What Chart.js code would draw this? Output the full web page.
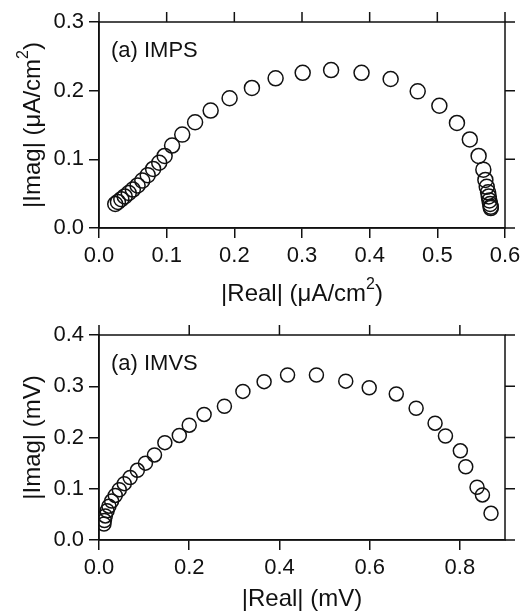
<!DOCTYPE html>
<html>
<head>
<meta charset="utf-8">
<script src="https://cdn.jsdelivr.net/npm/chart.js@4/dist/chart.umd.min.js"></script>
<style>
  html, body { margin: 0; padding: 0; background: #fff; }
  #wrap { position: relative; width: 529px; height: 613px; }
  .box { position: absolute; left: 0; width: 529px; }
</style>
</head>
<body>
<div id="wrap">
  <div class="box" style="top:0;height:306px"><canvas id="impsChart"></canvas></div>
  <div class="box" style="top:306px;height:307px"><canvas id="imvsChart"></canvas></div>
</div>
<script>
// IMPS: |Real| vs |Imag| (uA/cm2)
const impsReal = [0.024, 0.028, 0.033, 0.038, 0.044, 0.050, 0.057, 0.064, 0.072, 0.080,
                  0.089, 0.097, 0.108, 0.123, 0.142, 0.165, 0.193, 0.226, 0.261, 0.301,
                  0.343, 0.388, 0.431, 0.471, 0.503, 0.529, 0.548, 0.561, 0.568, 0.571,
                  0.573, 0.575, 0.576, 0.577, 0.578, 0.579, 0.579];
const impsImag = [0.035, 0.038, 0.042, 0.046, 0.051, 0.056, 0.062, 0.069, 0.077, 0.086,
                  0.095, 0.105, 0.120, 0.136, 0.154, 0.171, 0.189, 0.204, 0.218, 0.226,
                  0.230, 0.226, 0.217, 0.199, 0.178, 0.153, 0.129, 0.105, 0.085, 0.070,
                  0.060, 0.052, 0.046, 0.040, 0.035, 0.031, 0.029];

// IMVS: |Real| vs |Imag| (mV)
const imvsReal = [0.011, 0.012, 0.014, 0.018, 0.022, 0.028, 0.036, 0.045, 0.056, 0.069,
                  0.085, 0.103, 0.123, 0.146, 0.178, 0.200, 0.233, 0.278, 0.319, 0.366,
                  0.418, 0.482, 0.547, 0.599, 0.659, 0.703, 0.745, 0.768, 0.801, 0.813,
                  0.838, 0.850, 0.869];
const imvsImag = [0.031, 0.038, 0.047, 0.057, 0.066, 0.076, 0.087, 0.098, 0.110, 0.122,
                  0.136, 0.150, 0.166, 0.190, 0.204, 0.224, 0.245, 0.261, 0.290, 0.309,
                  0.322, 0.322, 0.310, 0.297, 0.285, 0.257, 0.228, 0.203, 0.174, 0.143,
                  0.103, 0.088, 0.052];

Chart.defaults.font.family = "'Liberation Sans', Arial, sans-serif";
Chart.defaults.color = '#111';

const INK = '#111';
const FAMILY = "'Liberation Sans', Arial, sans-serif";

// draws "main" + raised "sup" + "tail", the whole string centred at 0
function drawSupText(ctx, t, size) {
    const big = size + 'px ' + FAMILY;
    const small = Math.round(size * 0.68) + 'px ' + FAMILY;
    ctx.font = big;
    const w1 = ctx.measureText(t.text).width;
    const w3 = t.tail ? ctx.measureText(t.tail).width : 0;
    ctx.font = small;
    const w2 = t.sup ? ctx.measureText(t.sup).width : 0;
    let x = -(w1 + w2 + w3) / 2;
    ctx.font = big;
    ctx.fillText(t.text, x, 0);
    x += w1;
    if (t.sup) {
        ctx.font = small;
        ctx.fillText(t.sup, x, -size * 0.5);
        x += w2;
    }
    if (t.tail) {
        ctx.font = big;
        ctx.fillText(t.tail, x, 0);
    }
}

// frame + mirrored outward ticks on top/right + panel label + axis titles
const framePlugin = {
    id: 'frame',
    afterDraw(chart, args, opts) {
        const ctx = chart.ctx;
        const a = chart.chartArea;
        const xs = chart.scales.x;
        const ys = chart.scales.y;
        ctx.save();
        ctx.strokeStyle = INK;
        ctx.lineWidth = 1.5;
        ctx.strokeRect(a.left, a.top, a.right - a.left, a.bottom - a.top);
        ctx.beginPath();
        xs.ticks.forEach(t => {
            const px = xs.getPixelForValue(t.value);
            ctx.moveTo(px, a.top);
            ctx.lineTo(px, a.top - 10);
        });
        ys.ticks.forEach(t => {
            const py = ys.getPixelForValue(t.value);
            ctx.moveTo(a.right, py);
            ctx.lineTo(a.right + 10, py);
        });
        ctx.stroke();

        ctx.fillStyle = INK;
        ctx.textBaseline = 'alphabetic';
        ctx.textAlign = 'left';
        ctx.font = '22px ' + FAMILY;
        ctx.fillText(opts.label, a.left + 12, a.top + 35);

        // x title
        ctx.save();
        ctx.translate((a.left + a.right) / 2, a.bottom + opts.xTitleOff);
        drawSupText(ctx, opts.xTitle, 24);
        ctx.restore();

        // y title
        ctx.save();
        ctx.translate(40, (a.top + a.bottom) / 2);
        ctx.rotate(-Math.PI / 2);
        drawSupText(ctx, opts.yTitle, 24);
        ctx.restore();

        ctx.restore();
    }
};

function makeChart(id, xs, ys, opt) {
    const pts = xs.map((x, i) => ({ x: x, y: ys[i] }));
    return new Chart(document.getElementById(id), {
        type: 'scatter',
        data: {
            datasets: [{
                data: pts,
                pointStyle: 'circle',
                pointRadius: opt.radius,
                pointBorderWidth: 1.5,
                pointBorderColor: INK,
                pointBackgroundColor: 'rgba(0,0,0,0)',
                showLine: false
            }]
        },
        options: {
            responsive: true,
            maintainAspectRatio: false,
            animation: false,
            layout: { padding: { top: opt.top, right: 24, left: 0, bottom: 0 } },
            plugins: {
                legend: { display: false },
                tooltip: { enabled: false },
                frame: { label: opt.label, xTitle: opt.xTitle, yTitle: opt.yTitle, xTitleOff: opt.xTitleOff }
            },
            scales: {
                x: {
                    type: 'linear',
                    min: 0,
                    max: opt.xMax,
                    afterFit: s => { s.height = opt.xAxisH; },
                    border: { color: INK, width: 1.5 },
                    grid: { drawOnChartArea: false, tickLength: 10, tickColor: INK, lineWidth: 1.5 },
                    ticks: {
                        stepSize: opt.xStep,
                        includeBounds: false,
                        padding: 5,
                        font: { size: 22 },
                        color: INK,
                        maxRotation: 0,
                        autoSkip: false,
                        callback: v => v.toFixed(1)
                    }
                },
                y: {
                    type: 'linear',
                    min: 0,
                    max: opt.yMax,
                    afterFit: s => { s.width = 99; },
                    border: { color: INK, width: 1.5 },
                    grid: { drawOnChartArea: false, tickLength: 10, tickColor: INK, lineWidth: 1.5 },
                    ticks: {
                        stepSize: 0.1,
                        padding: 5,
                        font: { size: 22 },
                        color: INK,
                        autoSkip: false,
                        callback: v => v.toFixed(1)
                    }
                }
            }
        },
        plugins: [framePlugin]
    });
}

makeChart('impsChart', impsReal, impsImag, {
    label: '(a) IMPS',
    radius: 7.5,
    top: 22,
    xAxisH: 78,
    xTitleOff: 73,
    xMax: 0.6,
    xStep: 0.1,
    yMax: 0.3,
    xTitle: { text: '|Real| (\u03bcA/cm', sup: '2', tail: ')' },
    yTitle: { text: '|Imag| (\u03bcA/cm', sup: '2', tail: ')' }
});

makeChart('imvsChart', imvsReal, imvsImag, {
    label: '(a) IMVS',
    radius: 7,
    top: 29,
    xAxisH: 73,
    xTitleOff: 66,
    xMax: 0.9,
    xStep: 0.2,
    yMax: 0.4,
    xTitle: { text: '|Real| (mV)', sup: '', tail: '' },
    yTitle: { text: '|Imag| (mV)', sup: '', tail: '' }
});
</script>
</body>
</html>
